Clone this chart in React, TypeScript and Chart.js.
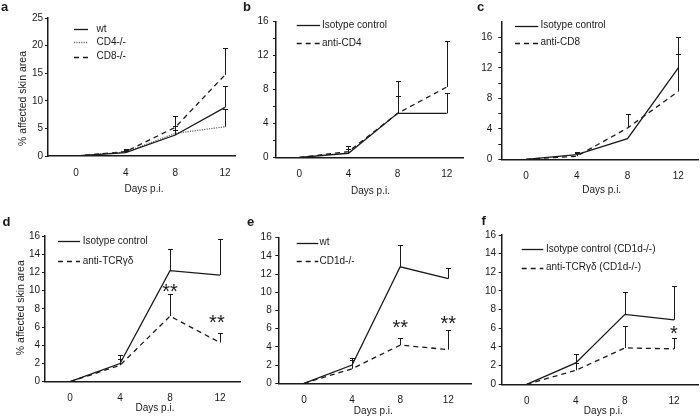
import React, { useEffect, useRef } from 'react';
import { Chart, registerables } from 'chart.js';

Chart.register(...registerables);

// ---------- DATA ----------
const days = [0, 4, 8, 12];

// a
const aWt = [0, 0.6, 3.8, 8.8];
const aWtUp = [null, 1.1, 5.4, 12.6];
const aCD4 = [0, 0.7, 4.1, 5.3];
const aCD4Up = [null, 0.9, 4.8, 8.6];
const aCD8 = [0, 0.8, 5.2, 14.7];
const aCD8Up = [null, 1.2, 7.2, 19.5];

// b
const bIso = [0, 0.5, 5.2, 5.2];
const bIsoUp = [null, 1.0, 9.0, 7.6];
const bCD4 = [0, 0.7, 5.2, 8.3];
const bCD4Up = [null, 1.3, 7.2, 13.7];

// c
const cIso = [0, 0.6, 2.7, 12.0];
const cIsoUp = [null, 0.9, null, 16.0];
const cCD8 = [0, 0.4, 4.1, 8.9];
const cCD8Up = [null, 0.8, 6.0, 13.8];

// d
const dIso = [0, 2.0, 12.2, 11.7];
const dIsoUp = [null, 2.9, 14.6, 15.7];
const dTCR = [0, 1.8, 7.2, 4.3];
const dTCRUp = [null, 2.5, 9.6, 5.4];

// e
const eWt = [0, 2.0, 12.8, 11.5];
const eWtUp = [null, 2.8, 15.2, 12.7];
const eCD1d = [0, 1.6, 4.2, 3.7];
const eCD1dUp = [null, 2.6, 5.0, 5.9];

// f
const fIso = [0, 2.3, 7.5, 6.9];
const fIsoUp = [null, 3.2, 9.9, 10.5];
const fTCR = [0, 1.5, 3.9, 3.8];
const fTCRUp = [null, 2.3, 6.2, 5.0];

// significance marks (x in days, y in % units)
const dStars = [{ x: 8, y: 10.4, text: '**' }, { x: 11.75, y: 7.0, text: '**' }];
const eStars = [{ x: 8, y: 6.7, text: '**' }, { x: 12, y: 7.1, text: '**' }];
const fStars = [{ x: 12, y: 6.0, text: '*' }];

const yTitle = '% affected skin area';
const xTitle = 'Days p.i.';

// ---------- STYLE ----------
const FONT = "'Liberation Sans', Arial, Helvetica, sans-serif";
const INK = '#1a1a1a';
const W = 700;
const H = 418;
const YW = 30;
const XH = 22;

type Style = 'solid' | 'dashed' | 'dotted';
const dashOf = (s: Style) => (s === 'dashed' ? [5, 4] : s === 'dotted' ? [1.2, 1.2] : []);
const colorOf = (s: Style) => (s === 'dotted' ? '#6a6a6a' : INK);

type Series = { label: string; values: number[]; upper: (number | null)[]; style: Style };

const panels = [
  {
    letter: 'a', letterX: 1, letterY: 10.5,
    yTitle, yTitleX: 22.7, yTitleY: 98.5,
    xTitleX: 144, xTitleY: 189,
    L: 48, R: 235, T: 18, B: 156, xMin: -2.255, xMax: 12.805,
    yMax: 25, yTickMax: 25, yStep: 5, labelEvery: 5, yPad: 2,
    legX0: 74, legX1: 88, legTextX: 96.5, legRows: [29.3, 42.3, 56.7],
    stars: [],
    series: [
      { label: 'wt', values: aWt, upper: aWtUp, style: 'solid' },
      { label: 'CD4-/-', values: aCD4, upper: aCD4Up, style: 'dotted' },
      { label: 'CD8-/-', values: aCD8, upper: aCD8Up, style: 'dashed' },
    ] as Series[],
  },
  {
    letter: 'b', letterX: 243, letterY: 10.5,
    yTitle: '', yTitleX: 0, yTitleY: 0,
    xTitleX: 370.5, xTitleY: 191.5,
    L: 276, R: 463, T: 21.7, B: 157.5, xMin: -1.897, xMax: 13.327,
    yMax: 16, yTickMax: 16, yStep: 2, labelEvery: 4, yPad: 4.5,
    legX0: 296.7, legX1: 320, legTextX: 322, legRows: [25, 43.3],
    stars: [],
    series: [
      { label: 'Isotype control', values: bIso, upper: bIsoUp, style: 'solid' },
      { label: 'anti-CD4', values: bCD4, upper: bCD4Up, style: 'dashed' },
    ] as Series[],
  },
  {
    letter: 'c', letterX: 477, letterY: 10.7,
    yTitle: '', yTitleX: 0, yTitleY: 0,
    xTitleX: 601.7, xTitleY: 190,
    L: 501.3, R: 698.3, T: 22.05, B: 159.3, xMin: -1.946, xMax: 13.576,
    yMax: 18, yTickMax: 16, yStep: 2, labelEvery: 4, yPad: 6,
    legX0: 515, legX1: 538.3, legTextX: 540.5, legRows: [25.7, 42.7],
    stars: [],
    series: [
      { label: 'Isotype control', values: cIso, upper: cIsoUp, style: 'solid' },
      { label: 'anti-CD8', values: cCD8, upper: cCD8Up, style: 'dashed' },
    ] as Series[],
  },
  {
    letter: 'd', letterX: 2.5, letterY: 225.7,
    yTitle, yTitleX: 20.7, yTitleY: 307.7,
    xTitleX: 155, xTitleY: 408.3,
    L: 45, R: 240, T: 236, B: 381.7, xMin: -2.0, xMax: 13.6,
    yMax: 16, yTickMax: 16, yStep: 2, labelEvery: 2, yPad: 2,
    legX0: 58, legX1: 80, legTextX: 82.7, legRows: [241, 261],
    stars: dStars,
    series: [
      { label: 'Isotype control', values: dIso, upper: dIsoUp, style: 'solid' },
      { label: 'anti-TCRγδ', values: dTCR, upper: dTCRUp, style: 'dashed' },
    ] as Series[],
  },
  {
    letter: 'e', letterX: 247, letterY: 225.7,
    yTitle: '', yTitleX: 0, yTitleY: 0,
    xTitleX: 373.3, xTitleY: 411,
    L: 278.3, R: 471, T: 237.7, B: 383.3, xMin: -2.137, xMax: 13.888,
    yMax: 16, yTickMax: 16, yStep: 2, labelEvery: 2, yPad: 3.6,
    legX0: 296.7, legX1: 318.3, legTextX: 319.5, legRows: [242.7, 261],
    stars: eStars,
    series: [
      { label: 'wt', values: eWt, upper: eWtUp, style: 'solid' },
      { label: 'CD1d-/-', values: eCD1d, upper: eCD1dUp, style: 'dashed' },
    ] as Series[],
  },
  {
    letter: 'f', letterX: 481.5, letterY: 225,
    yTitle: '', yTitleX: 0, yTitleY: 0,
    xTitleX: 603.3, xTitleY: 411,
    L: 501.7, R: 698, T: 235, B: 384.3, xMin: -2.037, xMax: 13.955,
    yMax: 16, yTickMax: 16, yStep: 2, labelEvery: 2, yPad: 2.7,
    legX0: 521.7, legX1: 543.3, legTextX: 546, legRows: [249, 267.7],
    stars: fStars,
    series: [
      { label: 'Isotype control (CD1d-/-)', values: fIso, upper: fIsoUp, style: 'solid' },
      { label: 'anti-TCRγδ (CD1d-/-)', values: fTCR, upper: fTCRUp, style: 'dashed' },
    ] as Series[],
  },
];

// ---------- PLUGINS ----------
const errorBarPlugin = {
  id: 'errorBars',
  afterDatasetsDraw(chart: any) {
    const { ctx, scales } = chart;
    const x = scales.x;
    const y = scales.y;
    ctx.save();
    ctx.strokeStyle = INK;
    ctx.lineWidth = 1;
    chart.data.datasets.forEach((ds: any) => {
      const up = ds.upper as (number | null)[];
      if (!up) return;
      ds.data.forEach((pt: any, i: number) => {
        const u = up[i];
        if (u == null) return;
        const px = Math.round(x.getPixelForValue(pt.x)) + 0.5;
        const y0 = y.getPixelForValue(pt.y);
        const y1 = Math.round(y.getPixelForValue(u)) + 0.5;
        ctx.beginPath();
        ctx.moveTo(px, y0);
        ctx.lineTo(px, y1);
        ctx.moveTo(px - 2.5, y1);
        ctx.lineTo(px + 2.5, y1);
        ctx.stroke();
      });
    });
    ctx.restore();
  },
};

const panelTextPlugin = {
  id: 'panelText',
  afterDraw(chart: any, _args: any, opts: any) {
    const { ctx, scales } = chart;
    const p = opts.panel;
    if (!p) return;
    ctx.save();
    ctx.fillStyle = INK;
    // panel letter
    ctx.font = `bold 13px ${FONT}`;
    ctx.textAlign = 'left';
    ctx.textBaseline = 'alphabetic';
    ctx.fillText(p.letter, p.letterX, p.letterY);
    // x title
    ctx.font = `10px ${FONT}`;
    ctx.textAlign = 'center';
    ctx.textBaseline = 'middle';
    ctx.fillText(xTitle, p.xTitleX, p.xTitleY);
    // y title
    if (p.yTitle) {
      ctx.save();
      ctx.translate(p.yTitleX, p.yTitleY);
      ctx.rotate(-Math.PI / 2);
      ctx.font = `10.5px ${FONT}`;
      ctx.fillText(p.yTitle, 0, 0);
      ctx.restore();
    }
    // legend
    p.series.forEach((s: Series, i: number) => {
      const ly = Math.round(p.legRows[i]) + 0.5;
      ctx.save();
      ctx.strokeStyle = colorOf(s.style);
      ctx.lineWidth = 1.3;
      ctx.setLineDash(dashOf(s.style));
      ctx.beginPath();
      ctx.moveTo(p.legX0, ly);
      ctx.lineTo(p.legX1, ly);
      ctx.stroke();
      ctx.restore();
      ctx.font = `10px ${FONT}`;
      ctx.textAlign = 'left';
      ctx.textBaseline = 'middle';
      ctx.fillText(s.label, p.legTextX, p.legRows[i]);
    });
    // significance stars
    const size = 20;
    ctx.font = `${size}px ${FONT}`;
    ctx.textAlign = 'center';
    ctx.textBaseline = 'alphabetic';
    p.stars.forEach((st: any) => {
      const px = scales.x.getPixelForValue(st.x);
      const py = scales.y.getPixelForValue(st.y);
      ctx.fillText(st.text, px, py + size * 0.575);
    });
    ctx.restore();
  },
};

function buildConfig(p: any): any {
  const datasets = p.series.map((s: Series) => ({
    label: s.label,
    data: days.map((d, i) => ({ x: d, y: s.values[i] })),
    upper: s.upper,
    borderColor: colorOf(s.style),
    borderWidth: 1.3,
    borderDash: dashOf(s.style),
    pointRadius: 0,
    tension: 0,
    fill: false,
  }));
  const tickFont = { size: 10, family: FONT };
  return {
    type: 'line',
    data: { datasets },
    plugins: [errorBarPlugin, panelTextPlugin],
    options: {
      animation: false,
      responsive: false,
      events: [],
      layout: {
        padding: { left: p.L - YW, right: W - p.R, top: p.T, bottom: H - p.B - XH },
      },
      plugins: {
        legend: { display: false },
        tooltip: { enabled: false },
        title: { display: false },
        panelText: { panel: p },
      },
      scales: {
        x: {
          type: 'linear',
          min: p.xMin,
          max: p.xMax,
          afterBuildTicks: (s: any) => {
            s.ticks = days.map((v) => ({ value: v }));
          },
          afterFit: (s: any) => {
            s.height = XH;
            s.paddingLeft = 0;
            s.paddingRight = 0;
          },
          ticks: { autoSkip: false, maxRotation: 0, padding: 11, font: tickFont, color: INK },
          grid: { display: true, drawOnChartArea: false, drawTicks: false },
          border: { display: true, color: INK, width: 1.5 },
        },
        y: {
          type: 'linear',
          min: 0,
          max: p.yMax,
          afterBuildTicks: (s: any) => {
            s.ticks = s.ticks.filter((t: any) => t.value <= p.yTickMax);
          },
          afterFit: (s: any) => {
            s.width = YW;
            s.paddingTop = 0;
            s.paddingBottom = 0;
          },
          ticks: {
            stepSize: p.yStep,
            autoSkip: false,
            padding: p.yPad,
            font: tickFont,
            color: INK,
            callback: (v: number) => (Math.abs(v % p.labelEvery) < 1e-9 ? String(v) : ''),
          },
          grid: { display: true, drawOnChartArea: false, drawTicks: true, tickLength: 3, color: INK, lineWidth: 1 },
          border: { display: true, color: INK, width: 1.5 },
        },
      },
    },
  };
}

export default function App() {
  const refs = useRef<(HTMLCanvasElement | null)[]>([]);
  useEffect(() => {
    const charts = panels.map((p, i) => new Chart(refs.current[i] as HTMLCanvasElement, buildConfig(p)));
    return () => charts.forEach((c) => c.destroy());
  }, []);
  return (
    <div style={{ position: 'fixed', left: 0, top: 0, width: W, height: H, background: '#fff', overflow: 'hidden' }}>
      {panels.map((p, i) => (
        <canvas
          key={p.letter}
          ref={(el) => { refs.current[i] = el; }}
          width={W}
          height={H}
          style={{ position: 'absolute', left: 0, top: 0, width: W, height: H }}
        />
      ))}
    </div>
  );
}
